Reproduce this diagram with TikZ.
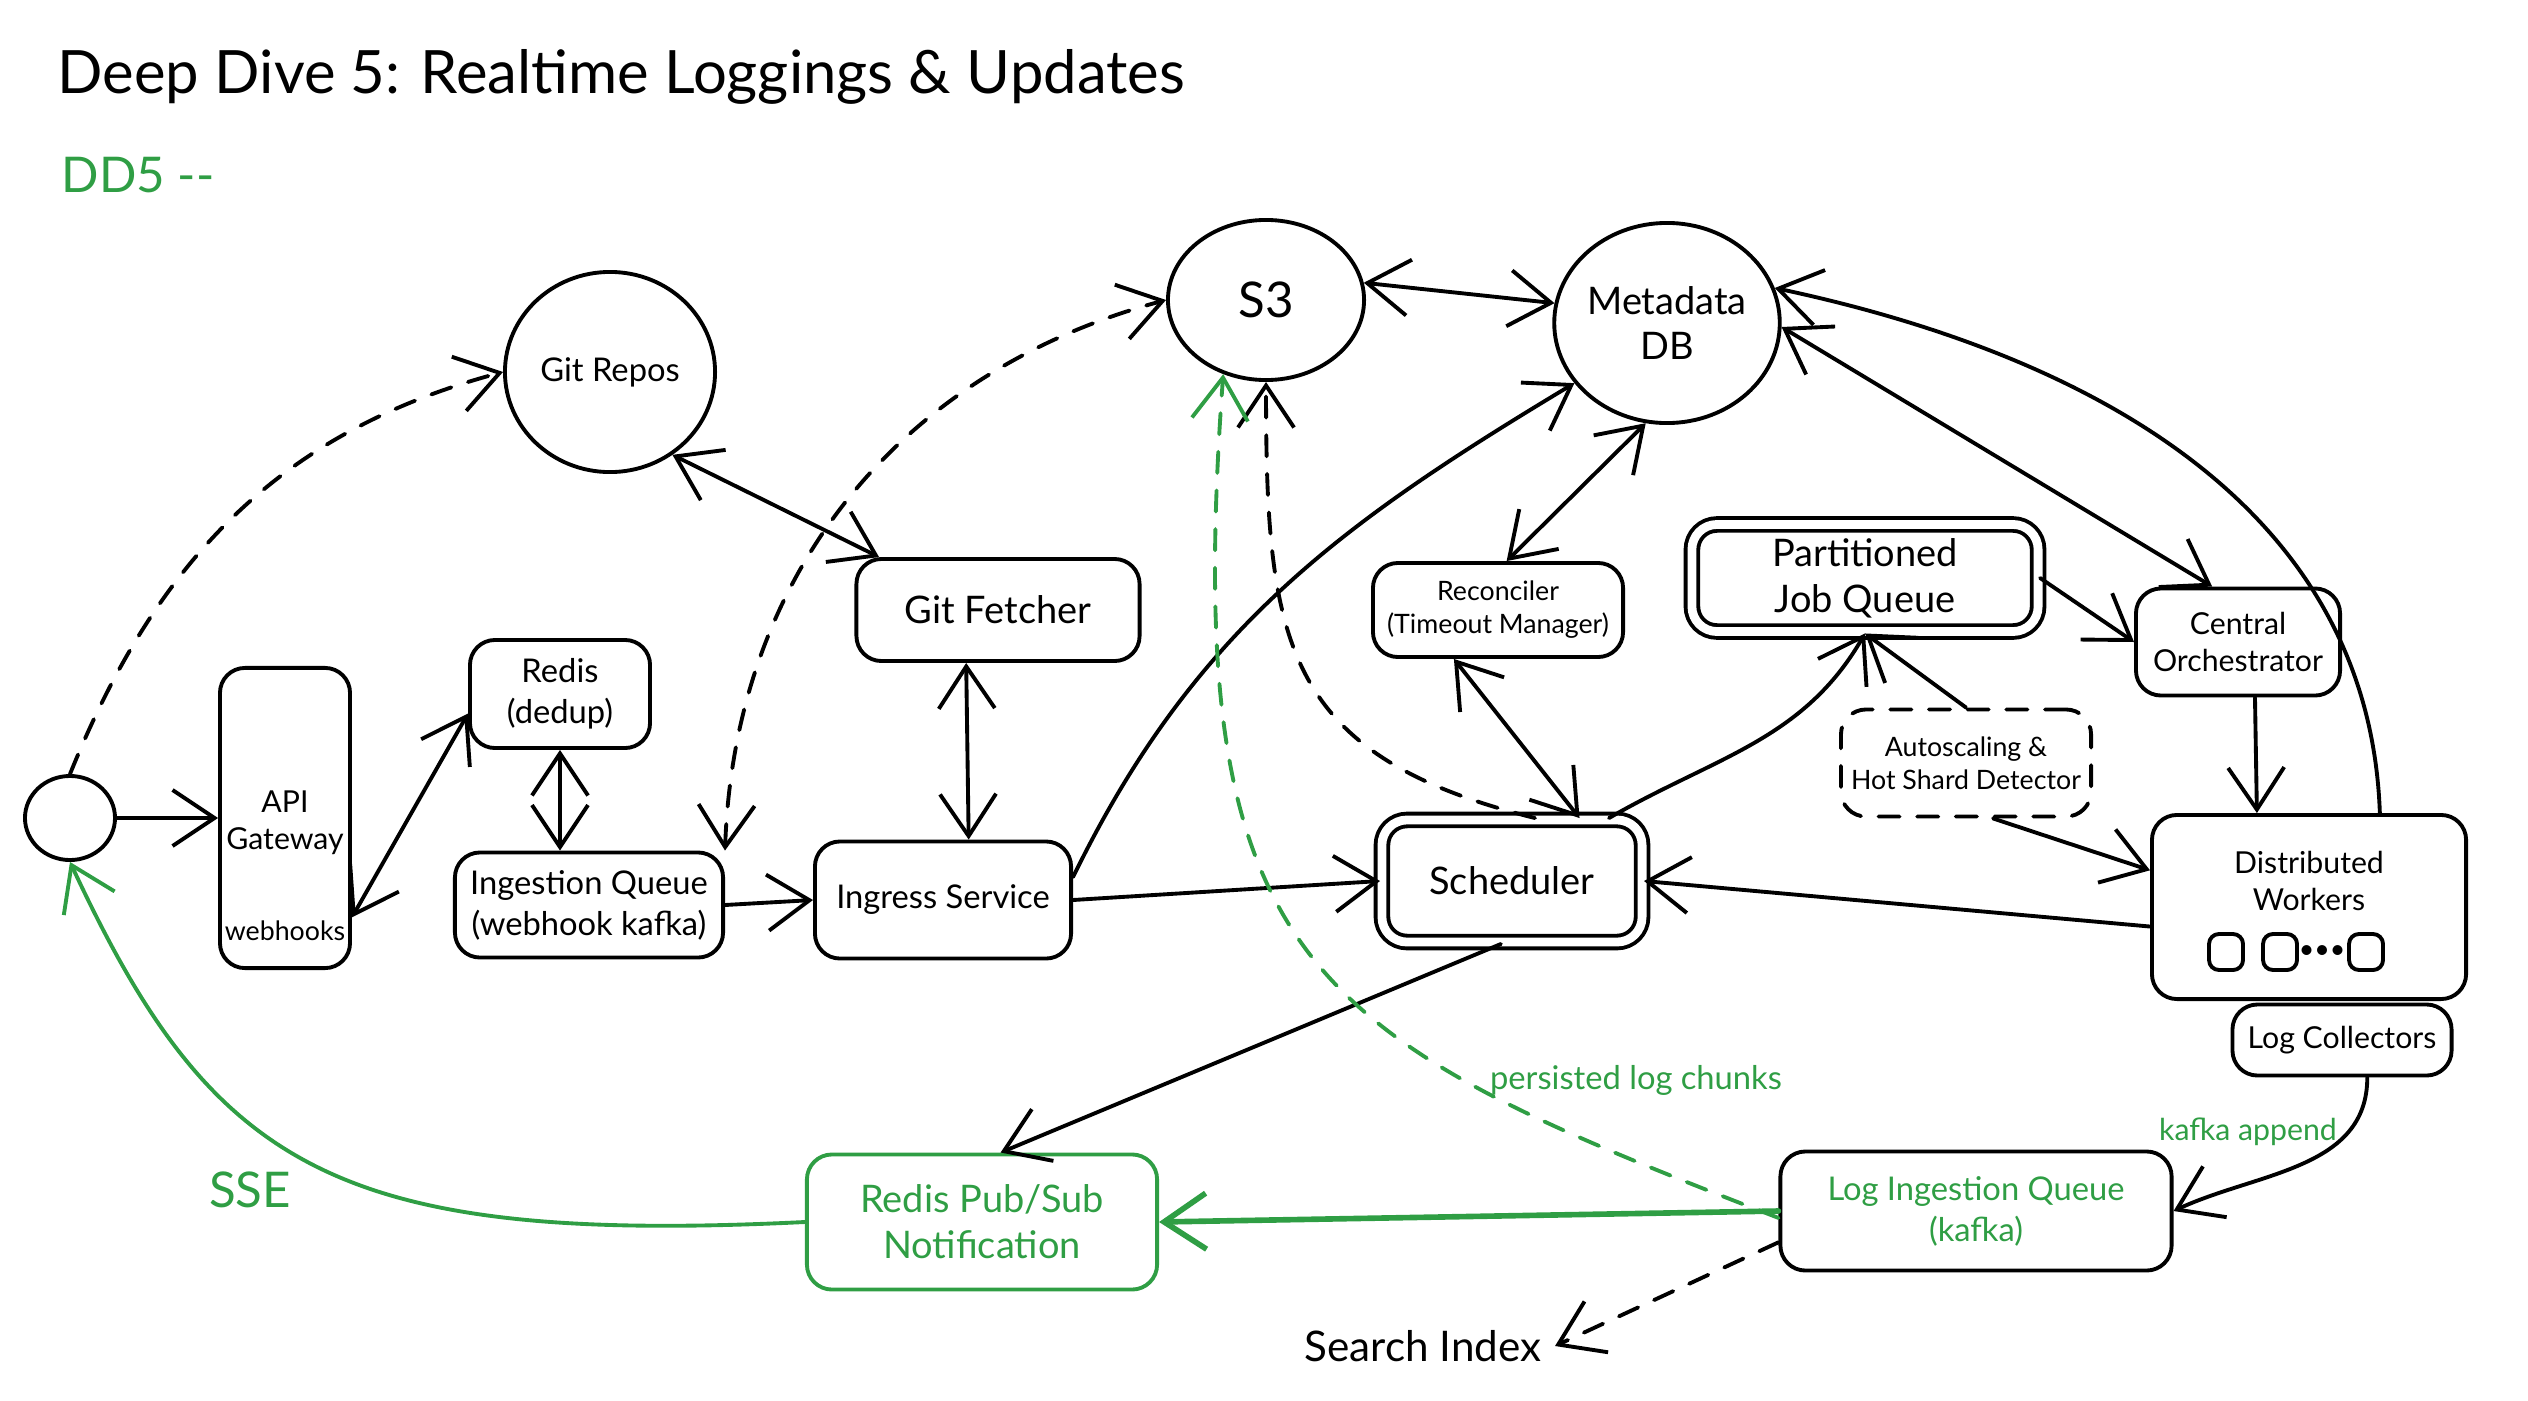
\documentclass[tikz,border=0pt]{standalone}
\usepackage{fontspec}
\setmainfont{Lato}
\usepackage{tikz}
\usetikzlibrary{arrows.meta, shapes.geometric, calc}
\definecolor{ddgreen}{HTML}{2F9E44}

\tikzset{
  box/.style={draw, rounded corners=2.5mm, align=center, inner sep=1pt},
  bubble/.style={draw, ellipse, align=center, inner sep=0pt},
  dashline/.style={dash pattern=on 6pt off 5pt},
  txts/.style={font=\fontsize{7.6}{9.4}\selectfont},
  txtm/.style={font=\fontsize{8.6}{10.4}\selectfont},
  txtn/.style={font=\fontsize{9.3}{11.6}\selectfont},
  txtl/.style={font=\fontsize{10.8}{13}\selectfont},
}

\begin{document}
\begin{tikzpicture}[x=0.01cm, y=-0.01cm, line width=1.1pt, line cap=round, line join=round,
  >={Straight Barb[length=4.2mm, width=5.6mm]}]
\useasboundingbox (0,0) rectangle (2528,1400);

% headings
\node[anchor=west, font=\fontsize{17}{20}\selectfont] (title) at (44,77) {Deep Dive 5: Realtime Loggings \& Updates};
\node[anchor=west, text=ddgreen, font=\fontsize{14}{16}\selectfont] (dd5) at (48,175) {DD5 -{}-};

% webhook side
\node[bubble, minimum width=0.9cm, minimum height=0.84cm] (user) at (70,818) {};
\node[box, minimum width=1.3cm, minimum height=3cm] (api) at (285,818) {};
\node[txtm, align=center] (apitxt) at (285,823) {API\\Gateway};
\node[txts] (hooks) at (285,931) {webhooks};
\node[box, txtn, minimum width=1.8cm, minimum height=1.08cm] (redis) at (560,694) {Redis\\(dedup)};
\node[box, txtn, minimum width=2.68cm, minimum height=1.05cm] (iq) at (589,905) {Ingestion Queue\\(webhook kafka)};
\node[bubble, txtn, minimum width=2.1cm, minimum height=2cm] (repos) at (610,372) {Git Repos};
\node[box, txtl, minimum width=2.83cm, minimum height=1.02cm] (fetcher) at (998,610) {Git Fetcher};
\node[box, txtn, minimum width=2.56cm, minimum height=1.17cm] (ingress) at (943,900) {Ingress Service};

% storage and scheduling
\node[bubble, font=\fontsize{14}{16}\selectfont, minimum width=1.96cm, minimum height=1.6cm] (s3) at (1266,300) {S3};
\node[bubble, txtl, minimum width=2.06cm, minimum height=2cm] (meta) at (1667,323) {Metadata\\DB};
\node[box, txts, minimum width=2.5cm, minimum height=0.94cm] (recon) at (1498,610) {Reconciler\\(Timeout Manager)};
\node[box, txtl, double, double distance=2.5pt, minimum width=3.46cm, minimum height=1.07cm] (jq) at (1865,578) {Partitioned\\Job Queue};
\node[box, txtm, minimum width=2.04cm, minimum height=1.07cm] (co) at (2238,642) {Central\\Orchestrator};
\node[box, txts, dashline, minimum width=2.5cm, minimum height=1.07cm] (auto) at (1966,763) {Autoscaling \&\\Hot Shard Detector};
\node[box, txtl, double, double distance=2.5pt, minimum width=2.6cm, minimum height=1.22cm] (sched) at (1512,881) {Scheduler};

% workers
\node[box, minimum width=3.14cm, minimum height=1.84cm] (workers) at (2309,907) {};
\node[txtm, align=center] (wtxt) at (2309,881) {Distributed\\Workers};
\node[box, rounded corners=1mm, minimum width=0.34cm, minimum height=0.36cm] (w1) at (2226,952) {};
\node[box, rounded corners=1mm, minimum width=0.34cm, minimum height=0.36cm] (w2) at (2280,952) {};
\node[txts, inner sep=0pt] (wdots) at (2322,952) {\textbullet\textbullet\textbullet};
\node[box, rounded corners=1mm, minimum width=0.34cm, minimum height=0.36cm] (w3) at (2366,952) {};
\node[box, txtm, minimum width=2.19cm, minimum height=0.71cm] (lc) at (2342,1040) {Log Collectors};

% log path
\node[box, txtn, text=ddgreen, minimum width=3.91cm, minimum height=1.19cm] (liq) at (1976,1211) {Log Ingestion Queue\\(kafka)};
\node[box, txtl, draw=ddgreen, text=ddgreen, minimum width=3.5cm, minimum height=1.35cm] (pubsub) at (982,1222) {Redis Pub/Sub\\Notification};
\node[font=\fontsize{12}{14}\selectfont] (search) at (1423,1346) {Search Index};
\node[text=ddgreen, font=\fontsize{14}{16}\selectfont] (sse) at (250,1190) {SSE};
\node[txtn, text=ddgreen] (chunks) at (1636,1080) {persisted log chunks};
\node[txtm, text=ddgreen] (append) at (2248,1132) {kafka append};

% connectors
\draw[->] (user) -- (api);
\draw[->, dashline] (user.north) to[out=68,in=195] (repos.west);
\draw[<->] (api.-56) -- (redis.192);
\draw[<->] (redis.south) -- (redis.south |- iq.north);
\draw[->] (iq.east) -- (ingress.west);
\draw[<->] (repos.-53) -- (fetcher.156);
\draw[<->] (fetcher.-121) -- (ingress.67);
\draw[<->, dashline] (iq.north east) to[out=88,in=195] (s3.west);
\draw[<->] (s3.10) -- (meta.170);
\draw[->] (ingress.east) -- (sched.west);
\draw[->] (ingress.10) to[out=64,in=211] (meta.213);
\draw[<->] (meta.-102) -- (recon.80);
\draw[<->] (recon.-132) -- (sched.43);
\draw[->, dashline] (sched.70) to[out=166,in=-90,looseness=1.3] (s3.south);
\draw[->] (sched.33) to[out=30,in=240] (jq.south);
\draw[->] (auto.north) -- (jq.south);
\draw[->] (jq.east) -- (co.west);
\draw[<->] (meta.-2) -- (co.115);
\draw[->] (co.-73) -- (workers.119);
\draw[->] (workers.53) to[out=92,in=-12] (meta.18);
\draw[->] (auto.-64) -- (workers.167);
\draw[->] (workers.187) -- (sched.east);
\draw[->] (sched.-100) -- (pubsub.75);
\draw[->] (lc.-56) to[out=-90,in=25] (liq.east);
\draw[->, ddgreen, line width=1.6pt] (liq.west) -- (pubsub.east);
\draw[->, ddgreen, dashline] (liq.-178) .. controls (1305,1035) and (1180,968) .. (s3.-120);
\draw[->, dashline] (liq.189) -- (search.east);
\draw[->, ddgreen] (pubsub.west) .. controls (334,1245) and (212,1167) .. (user.south);
\end{tikzpicture}
\end{document}
